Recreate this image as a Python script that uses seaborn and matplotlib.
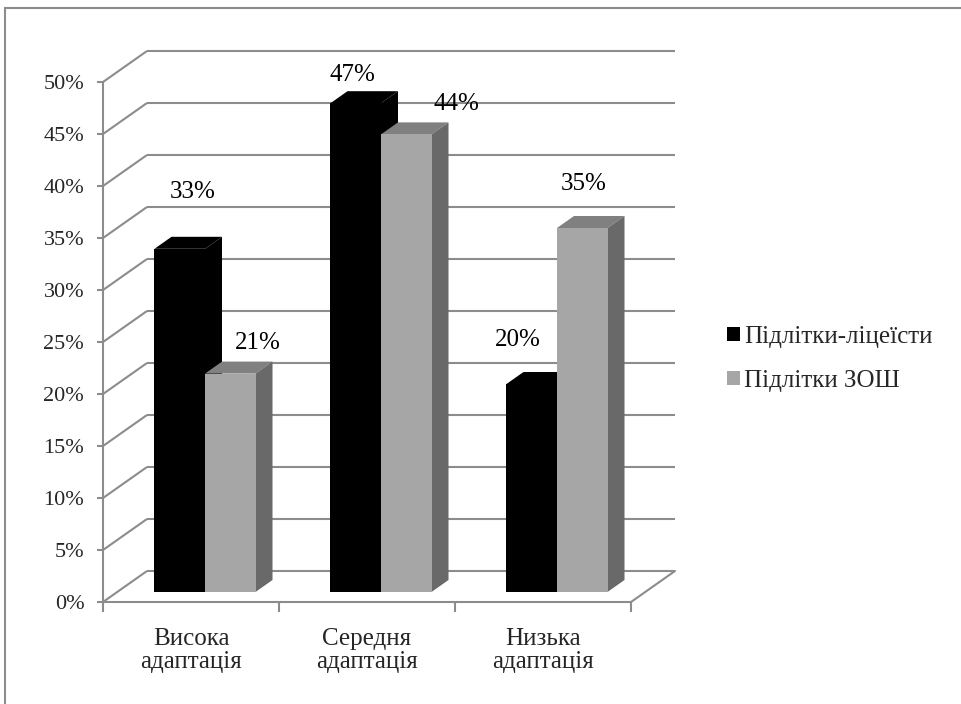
import matplotlib
matplotlib.use("Agg")
import matplotlib.pyplot as plt
from matplotlib.patches import Polygon, Patch, Rectangle
import seaborn as sns
import pandas as pd

# ---- data -------------------------------------------------------------
categories = ["Висока\nадаптація", "Середня\nадаптація", "Низька\nадаптація"]
series_names = ["Підлітки-ліцеїсти", "Підлітки ЗОШ"]
lyceum_values = [33, 47, 20]
school_values = [21, 44, 35]
y_ticks = list(range(0, 55, 5))
y_tick_labels = [f"{t}%" for t in y_ticks]

# ---- styling ----------------------------------------------------------
front_colors = ["#000000", "#a6a6a6"]
top_colors = ["#000000", "#808080"]
side_colors = ["#000000", "#696969"]
grid_color = "#8c8c8c"
# value-label placement relative to each bar (category units, percentage points)
label_nudges = [
    [(0.153, 6.4), (0.062, 3.7), (0.0, 5.2)],
    [(0.235, 3.9), (0.366, 3.9), (0.087, 5.2)],
]

sns.set_theme(style="white")
plt.rcParams["font.family"] = ["Liberation Serif", "DejaVu Serif"]
FS_TICK = 16
FS_TEXT = 18

W, H, DPI = 961, 704, 100
fig = plt.figure(figsize=(W / DPI, H / DPI), dpi=DPI)
fig.patch.set_facecolor("white")

# axes box = front edge of the floor (x) and the 0..50 % range (y), in pixels
px_left, px_right, px_top, px_bottom = 103, 631, 82, 602
ax = fig.add_axes([px_left / W, 1 - px_bottom / H,
                   (px_right - px_left) / W, (px_bottom - px_top) / H])

df = pd.DataFrame({
    "category": categories * 2,
    "series": [series_names[0]] * len(categories) + [series_names[1]] * len(categories),
    "value": lyceum_values + school_values,
})

sns.barplot(data=df, x="category", y="value", hue="series",
            order=categories, hue_order=series_names,
            palette=front_colors, width=0.574, saturation=1,
            legend=False, linewidth=0, ax=ax)

ax.set_xlim(-0.5, len(categories) - 0.5)
ax.set_ylim(0, 50)
ax.set_facecolor("none")
ax.grid(False)

# pixel -> data conversion for the oblique depth offsets
sx = (px_right - px_left) / len(categories)
sy = (px_bottom - px_top) / 50.0


def depth(px, py):
    return px / sx, py / sy


wall_dx, wall_dy = depth(44, 31)    # back wall
front_dx, front_dy = depth(14, 10)  # front face of the columns
back_dx, back_dy = depth(31, 22)    # back face of the columns

# back wall grid lines and left side-wall diagonals
x_lo, x_hi = ax.get_xlim()
for v in y_ticks:
    ax.plot([x_lo, x_lo + wall_dx], [v, v + wall_dy], color=grid_color, lw=1.5,
            clip_on=False, zorder=1, solid_capstyle="butt")
    ax.plot([x_lo + wall_dx, x_hi + wall_dx], [v + wall_dy, v + wall_dy],
            color=grid_color, lw=1.5, clip_on=False, zorder=1, solid_capstyle="butt")
# right edge of the floor
ax.plot([x_hi, x_hi + wall_dx], [0, wall_dy], color=grid_color, lw=1.5,
        clip_on=False, zorder=1)

# turn the flat bars into 3-D columns
bars = sorted(ax.patches, key=lambda p: p.get_x())
n_cat = len(categories)
for i, p in enumerate(bars):
    s = 0 if sum(p.get_facecolor()[:3]) < 0.3 else 1
    c = int(round(p.get_x() + p.get_width() / 2 + 0.2))
    c = min(max(c, 0), n_cat - 1)
    x0, w, h = p.get_x(), p.get_width(), p.get_height()
    z = 3 + i * 0.1
    p.set_x(x0 + front_dx)
    p.set_y(front_dy)
    p.set_zorder(z + 0.02)
    p.set_clip_on(False)
    top = Polygon([(x0 + front_dx, h + front_dy), (x0 + w + front_dx, h + front_dy),
                   (x0 + w + back_dx, h + back_dy), (x0 + back_dx, h + back_dy)],
                  closed=True, facecolor=top_colors[s], edgecolor="none",
                  zorder=z, clip_on=False)
    side = Polygon([(x0 + w + front_dx, front_dy), (x0 + w + back_dx, back_dy),
                    (x0 + w + back_dx, h + back_dy), (x0 + w + front_dx, h + front_dy)],
                   closed=True, facecolor=side_colors[s], edgecolor="none",
                   zorder=z, clip_on=False)
    ax.add_patch(top)
    ax.add_patch(side)
    ndx, ndy = label_nudges[s][c]
    ax.text(x0 + w / 2 + ndx, h + ndy, f"{h:.0f}%", ha="center", va="center",
            fontsize=FS_TEXT, color="black", zorder=20)

# axes lines and ticks
for side_name in ["top", "right"]:
    ax.spines[side_name].set_visible(False)
for side_name in ["left", "bottom"]:
    ax.spines[side_name].set_visible(True)
    ax.spines[side_name].set_color(grid_color)
    ax.spines[side_name].set_linewidth(1.5)
    ax.spines[side_name].set_zorder(2)

ax.set_yticks(y_ticks)
ax.set_yticklabels(y_tick_labels)
ax.tick_params(axis="y", direction="out", length=4.5, width=1.5, color=grid_color,
               labelsize=FS_TICK, pad=9, left=True)

ax.set_xticks([x_lo + k for k in range(n_cat + 1)])
ax.set_xticklabels([])
ax.set_xticks(list(range(n_cat)), minor=True)
ax.set_xticklabels(categories, minor=True)
ax.tick_params(axis="x", which="major", direction="out", length=7, width=1.5,
               color=grid_color, bottom=True)
ax.tick_params(axis="x", which="minor", length=0, labelsize=FS_TEXT, pad=19)
for t in ax.get_xticklabels(minor=True):
    t.set_linespacing(1.05)
ax.set_xlabel("")
ax.set_ylabel("")

# legend
handles = [Patch(facecolor=c, edgecolor="none") for c in front_colors]
fig.legend(handles, series_names, loc="center left",
           bbox_to_anchor=(727 / W, 1 - 359 / H), frameon=False, fontsize=FS_TEXT,
           handlelength=0.5, handleheight=0.5, handletextpad=0.2,
           labelspacing=0.9, borderpad=0, borderaxespad=0)

# chart-area border
fig.add_artist(Rectangle((5 / W, -0.1), 2, 1 - 8 / H + 0.1, transform=fig.transFigure,
                         fill=False, edgecolor=grid_color, lw=1.5))

fig.savefig("out.png", dpi=DPI)
